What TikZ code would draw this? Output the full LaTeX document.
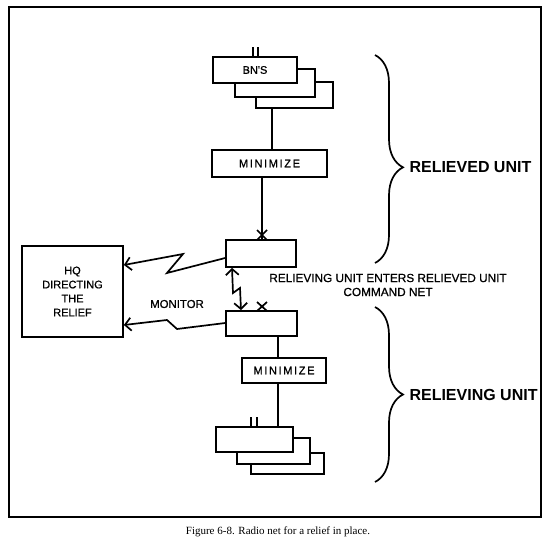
\documentclass[tikz,border=0pt]{standalone}
\usepackage{fontspec}
\setmainfont{Liberation Sans}
\newfontfamily\plainfont[FakeBold=0.8]{Liberation Sans}
\newfontfamily\widefont[LetterSpace=15,FakeBold=0.8]{Liberation Sans}
\newfontfamily\captionfont{Liberation Serif}
\usetikzlibrary{arrows.meta,positioning,calc,decorations.pathreplacing}

\begin{document}
\begin{tikzpicture}[x=1pt,y=-1pt,
    box/.style={draw, line width=1.7pt, fill=white, inner sep=0pt,
      font=\plainfont\fontsize{11}{14}\selectfont, align=center},
    link/.style={line width=1.7pt},
    zap/.style={line width=1.7pt, -{Straight Barb[length=6pt,width=13pt]}},
    unitbrace/.style={line width=1.7pt, decorate,
      decoration={brace, amplitude=28pt, aspect=#1}},
    unitlabel/.style={anchor=west, font=\bfseries\fontsize{16}{18}\selectfont}]
    \useasboundingbox (0,0) rectangle (550,554);
    \draw[line width=1.8pt] (9,7) rectangle (541,517);

    % relieved unit
    \node[box, minimum width=77pt, minimum height=26pt] (bn3) at (294.5,95) {};
    \node[box, minimum width=80pt, minimum height=28pt] (bn2) at (275,83) {};
    \node[box, minimum width=84pt, minimum height=26pt] (bn1) at (255,70) {BN'S};
    \draw[link] (bn1.north -| 253,0) -- ++(0,-9) (bn1.north -| 258,0) -- ++(0,-9);

    \node[box, minimum width=115pt, minimum height=27pt] (min1) at (269.5,163.5)
      {\widefont MINIMIZE};
    \draw[link] (bn3.south -| 272,0) -- (min1.north -| 272,0);

    \node[box, minimum width=70pt, minimum height=27pt] (radio1) at (261,253.5) {};
    \draw[link] (min1.south -| 262,0) -- (radio1.north -| 262,0);
    \draw[link] (257,230) -- (267,240) (267,230) -- (257,240);

    % relieving unit
    \node[box, minimum width=71pt, minimum height=25pt] (radio2) at (261.5,323.5) {};
    \draw[link] (257,302) -- (267,311) (267,302) -- (257,311);

    \node[box, minimum width=84pt, minimum height=25pt] (min2) at (284,370.5)
      {\widefont MINIMIZE};
    \draw[link] (radio2.south -| 278,0) -- (min2.north -| 278,0);

    \node[box, minimum width=73pt, minimum height=21pt] (ln3) at (287.5,463.5) {};
    \node[box, minimum width=73pt, minimum height=26pt] (ln2) at (273.5,451) {};
    \node[box, minimum width=77pt, minimum height=25pt] (ln1) at (254.5,439.5) {};
    \draw[link] (min2.south -| 278,0) -- (ln1.north -| 278,0);
    \draw[link] (ln1.north -| 251,0) -- ++(0,-9) (ln1.north -| 257,0) -- ++(0,-9);

    % higher headquarters
    \node[box, minimum width=101pt, minimum height=91pt] (hq) at (72.5,291.5)
      {HQ\\DIRECTING\\THE\\RELIEF};

    \draw[zap] (radio1.west |- 0,258) -- (167,273) -- (183,254) -- (hq.east |- 0,265);
    \draw[zap] (radio2.west |- 0,323) -- (177,329) -- (167,320) -- (hq.east |- 0,325);
    \draw[zap, {Straight Barb[length=6pt,width=13pt]}-{Straight Barb[length=6pt,width=13pt]}]
      (radio1.south -| 232,0) -- (233,293) -- (240,288) -- (radio2.north -| 241,0);

    \node[font=\plainfont\fontsize{11.4}{14}\selectfont] (monitor) at (177,304) {MONITOR};
    \node[font=\plainfont\fontsize{11.8}{14}\selectfont, align=center] (enters) at (388,285)
      {RELIEVING UNIT ENTERS RELIEVED UNIT\\COMMAND NET};

    % braces
    \draw[unitbrace=0.54] (375,55) -- (375,263);
    \draw[unitbrace=0.5] (375,307) -- (375,482);
    \node[unitlabel] (relieved) at (406,167) {RELIEVED UNIT};
    \node[unitlabel] (relieving) at (406,395) {RELIEVING UNIT};

    \node[font=\captionfont\fontsize{11}{13}\selectfont] (caption) at (278,532)
      {Figure 6-8. Radio net for a relief in place.};
  \end{tikzpicture}
\end{document}
